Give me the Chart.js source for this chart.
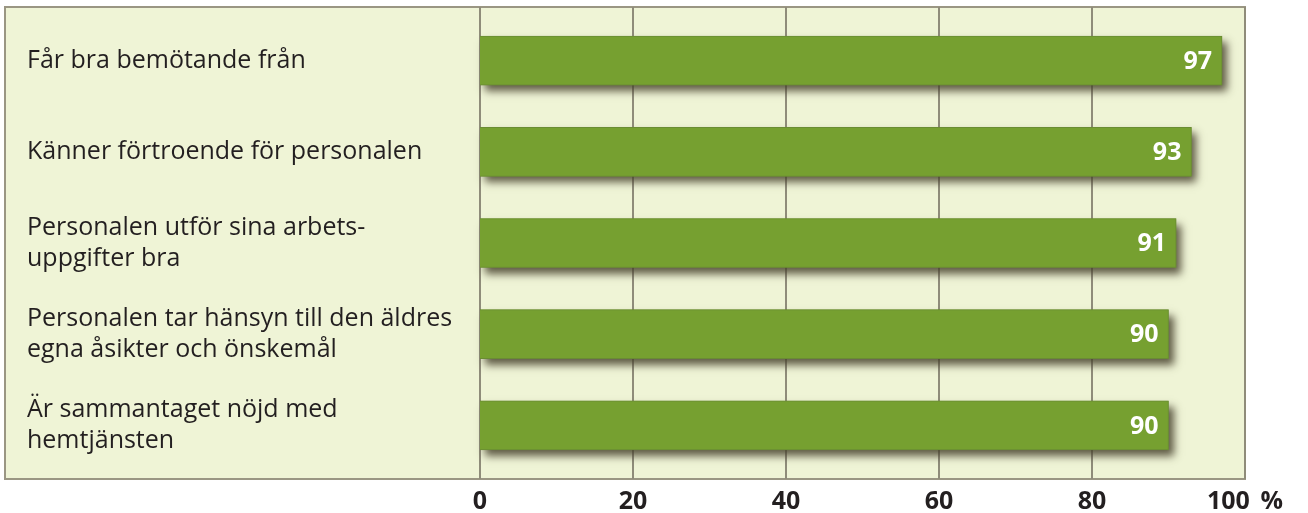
<!DOCTYPE html>
<html>
<head>
<meta charset="utf-8">
<script src="https://cdn.jsdelivr.net/npm/chart.js@4/dist/chart.umd.min.js"></script>
<style>
  html, body { margin: 0; padding: 0; background: #ffffff; }
  #wrap { width: 1308px; height: 513px; }
</style>
</head>
<body>
<div id="wrap"><canvas id="chart"></canvas></div>
<script>
const categories = [
  ['Får bra bemötande från'],
  ['Känner förtroende för personalen'],
  ['Personalen utför sina arbets-', 'uppgifter bra'],
  ['Personalen tar hänsyn till den äldres', 'egna åsikter och önskemål'],
  ['Är sammantaget nöjd med', 'hemtjänsten']
];
const values = [97, 93, 91, 90, 90];
const tickValues = [0, 20, 40, 60, 80, 100];

const fontFamily = '"Open Sans", "Noto Sans", sans-serif';

// panel background, border and grid lines
const panel = {
  id: 'panel',
  beforeDraw(chart) {
    const {ctx, chartArea, scales} = chart;
    const top = chartArea.top - 8, bottom = chartArea.bottom + 8;
    ctx.save();
    ctx.fillStyle = '#eff4d6';
    ctx.fillRect(5, top, chartArea.right - 5, bottom - top);
    ctx.strokeStyle = '#9a9683';
    ctx.lineWidth = 2;
    ctx.strokeRect(5, top, chartArea.right - 5, bottom - top);
    ctx.strokeStyle = '#8f8c7a';
    tickValues.forEach(v => {
      const x = Math.round(scales.x.getPixelForValue(v));
      ctx.beginPath();
      ctx.moveTo(x, top);
      ctx.lineTo(x, bottom);
      ctx.stroke();
    });
    ctx.restore();
  },
  beforeDatasetDraw(chart) {
    // drop shadow under the bars
    const ctx = chart.ctx;
    ctx.save();
    ctx.shadowColor = 'rgba(70,65,45,0.85)';
    ctx.shadowBlur = 8;
    ctx.shadowOffsetX = 5;
    ctx.shadowOffsetY = 6;
    chart.getDatasetMeta(0).data.forEach(bar => {
      const b = bar.getProps(['x', 'y', 'base', 'height']);
      ctx.fillStyle = '#76a030';
      ctx.fillRect(b.base, b.y - b.height / 2, b.x - b.base, b.height);
    });
    ctx.restore();
  },
  afterDatasetsDraw(chart) {
    const ctx = chart.ctx;
    ctx.save();
    ctx.fillStyle = '#ffffff';
    ctx.font = 'bold 25px ' + fontFamily;
    ctx.textAlign = 'right';
    ctx.textBaseline = 'middle';
    chart.getDatasetMeta(0).data.forEach((bar, i) => {
      ctx.fillText(values[i], bar.x - 10, bar.y + 1);
    });
    ctx.restore();
  }
};

new Chart(document.getElementById('chart'), {
  type: 'bar',
  data: {
    labels: categories,
    datasets: [{
      data: values,
      backgroundColor: '#76a030',
      borderColor: '#6a8c33',
      borderWidth: 1,
      barThickness: 49
    }]
  },
  options: {
    indexAxis: 'y',
    responsive: true,
    maintainAspectRatio: false,
    animation: false,
    layout: { padding: { left: 27, right: 63, top: 15, bottom: 0 } },
    plugins: {
      legend: { display: false },
      tooltip: { enabled: false }
    },
    scales: {
      x: {
        min: 0,
        max: 100,
        grid: { display: false, drawTicks: false },
        border: { display: false },
        afterBuildTicks(scale) {
          scale.ticks = tickValues.map(v => ({value: v}));
        },
        afterFit(scale) {
          scale.height = 42;
          scale.paddingLeft = 0;
          scale.paddingRight = 0;
        },
        ticks: {
          padding: 16,
          color: '#231f20',
          font: { family: fontFamily, size: 25, weight: 'bold' },
          callback: v => v === 100 ? '100\u2009 %' : v
        }
      },
      y: {
        grid: { display: false },
        border: { display: false },
        afterFit(scale) {
          scale.width = 453;
          scale.paddingTop = 0;
          scale.paddingBottom = 0;
        },
        ticks: {
          crossAlign: 'far',
          padding: 0,
          color: '#231f20',
          font: { family: fontFamily, size: 25, lineHeight: 1.25 }
        }
      }
    }
  },
  plugins: [panel]
});
</script>
</body>
</html>
